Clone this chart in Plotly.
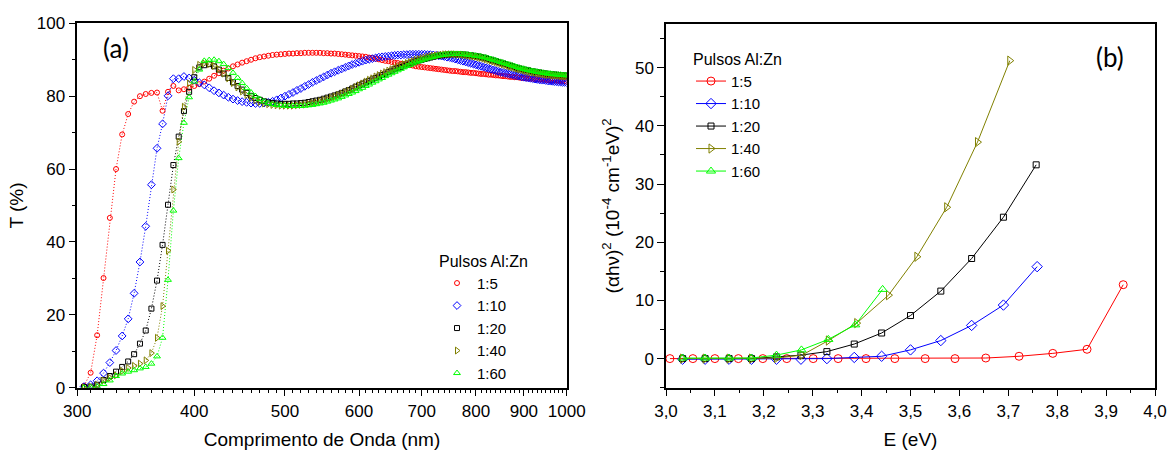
import plotly.graph_objects as go

# ---------------- Panel (a): transmittance spectra ----------------
wavelength_nm = list(range(305, 1001, 5))

T_1_5 = [0.5, 4.1, 14.4, 30.1, 46.6, 60.0, 69.5, 75.1, 78.5, 80.0, 80.6, 80.9, 81.0, 76.0, 81.2, 82.8, 81.6, 81.9, 82.3, 82.8,
         83.3, 84.0, 84.8, 85.6, 86.3, 87.0, 87.6, 88.2, 88.7, 89.2, 89.6, 90.0, 90.4, 90.7, 90.9, 91.1, 91.3, 91.4, 91.5, 91.6,
         91.7, 91.7, 91.8, 91.8, 91.9, 91.9, 91.9, 91.9, 91.9, 91.8, 91.8, 91.7, 91.7, 91.6, 91.5, 91.4, 91.3, 91.2, 91.1, 91.0,
         90.9, 90.8, 90.6, 90.5, 90.3, 90.1, 89.9, 89.7, 89.6, 89.4, 89.2, 89.1, 88.9, 88.8, 88.6, 88.5, 88.4, 88.2, 88.1, 88.0,
         87.9, 87.8, 87.7, 87.6, 87.5, 87.4, 87.3, 87.2, 87.1, 87.0, 86.9, 86.9, 86.8, 86.7, 86.6, 86.6, 86.5, 86.4, 86.4, 86.3,
         86.2, 86.1, 86.1, 86.0, 85.9, 85.9, 85.8, 85.7, 85.7, 85.6, 85.5, 85.5, 85.4, 85.3, 85.3, 85.2, 85.2, 85.1, 85.0, 85.0,
         84.9, 84.9, 84.8, 84.8, 84.7, 84.7, 84.6, 84.6, 84.5, 84.5, 84.4, 84.4, 84.3, 84.3, 84.3, 84.2, 84.2, 84.1, 84.1, 84.0]

T_1_10 = [0.3, 0.8, 1.9, 4.0, 6.9, 10.2, 14.2, 18.9, 25.9, 34.5, 44.3, 55.7, 65.7, 72.4, 80.1, 84.8, 84.8, 85.4, 85.0, 84.4,
          83.7, 83.1, 82.3, 81.5, 80.9, 80.3, 79.7, 79.2, 78.8, 78.5, 78.3, 78.1, 78.0, 78.0, 78.1, 78.3, 78.6, 79.0, 79.5, 80.0,
          80.5, 81.0, 81.6, 82.1, 82.7, 83.2, 83.8, 84.3, 84.8, 85.3, 85.8, 86.3, 86.7, 87.1, 87.5, 87.9, 88.3, 88.7, 89.0, 89.3,
          89.6, 89.9, 90.1, 90.3, 90.5, 90.7, 90.8, 90.9, 91.0, 91.1, 91.2, 91.3, 91.3, 91.4, 91.4, 91.5, 91.5, 91.5, 91.5, 91.5,
          91.5, 91.4, 91.4, 91.3, 91.2, 91.1, 91.0, 90.9, 90.7, 90.6, 90.4, 90.2, 90.0, 89.8, 89.6, 89.4, 89.2, 89.0, 88.8, 88.6,
          88.4, 88.2, 88.0, 87.8, 87.6, 87.4, 87.2, 87.0, 86.8, 86.6, 86.5, 86.3, 86.2, 86.0, 85.9, 85.7, 85.6, 85.5, 85.3, 85.2,
          85.1, 85.0, 84.9, 84.8, 84.7, 84.6, 84.5, 84.4, 84.4, 84.3, 84.2, 84.2, 84.1, 84.0, 84.0, 83.9, 83.9, 83.8, 83.8, 83.7]

T_1_20 = [0.2, 0.3, 0.8, 2.1, 3.2, 4.4, 5.7, 7.2, 9.2, 12.1, 15.7, 21.7, 29.4, 39.2, 50.2, 61.1, 68.9, 75.9, 81.2, 85.2,
          87.9, 88.5, 88.8, 88.2, 87.3, 86.2, 85.0, 83.8, 82.8, 81.8, 80.9, 80.1, 79.5, 79.0, 78.6, 78.3, 78.1, 78.0, 77.9, 77.9,
          77.9, 78.0, 78.0, 78.1, 78.2, 78.4, 78.6, 78.8, 79.0, 79.3, 79.6, 79.9, 80.2, 80.5, 80.9, 81.3, 81.7, 82.1, 82.6, 83.0,
          83.4, 83.8, 84.2, 84.6, 85.0, 85.4, 85.8, 86.2, 86.6, 87.0, 87.4, 87.7, 88.0, 88.4, 88.7, 89.0, 89.3, 89.6, 89.8, 90.0,
          90.2, 90.4, 90.6, 90.8, 91.0, 91.1, 91.2, 91.3, 91.4, 91.5, 91.5, 91.5, 91.5, 91.5, 91.4, 91.4, 91.3, 91.2, 91.1, 91.0,
          90.9, 90.7, 90.6, 90.4, 90.2, 90.0, 89.8, 89.6, 89.4, 89.2, 89.0, 88.8, 88.6, 88.4, 88.2, 88.0, 87.8, 87.6, 87.5, 87.3,
          87.2, 87.1, 86.9, 86.8, 86.7, 86.6, 86.5, 86.4, 86.3, 86.2, 86.1, 86.0, 86.0, 85.9, 85.9, 85.8, 85.8, 85.7, 85.7, 85.6]

T_1_40 = [0.1, 0.2, 0.8, 2.0, 2.7, 3.4, 4.6, 5.4, 6.0, 6.6, 7.5, 9.5, 13.7, 22.4, 37.6, 54.4, 67.5, 77.1, 83.5, 87.2,
          88.6, 89.0, 88.8, 88.3, 87.4, 86.2, 84.9, 83.6, 82.4, 81.3, 80.3, 79.5, 78.9, 78.4, 78.0, 77.8, 77.6, 77.5, 77.4, 77.4,
          77.4, 77.4, 77.5, 77.6, 77.7, 77.9, 78.1, 78.3, 78.6, 78.9, 79.2, 79.5, 79.9, 80.3, 80.7, 81.1, 81.5, 82.0, 82.5, 83.0,
          83.5, 84.0, 84.5, 84.9, 85.4, 85.8, 86.2, 86.6, 87.0, 87.4, 87.8, 88.1, 88.5, 88.8, 89.1, 89.4, 89.7, 90.0, 90.2, 90.4,
          90.6, 90.8, 91.0, 91.1, 91.2, 91.3, 91.4, 91.5, 91.5, 91.5, 91.5, 91.5, 91.4, 91.4, 91.3, 91.2, 91.1, 91.0, 90.9, 90.8,
          90.6, 90.5, 90.3, 90.1, 89.9, 89.7, 89.5, 89.3, 89.1, 88.9, 88.7, 88.5, 88.3, 88.1, 87.9, 87.7, 87.5, 87.3, 87.2, 87.0,
          86.9, 86.7, 86.6, 86.5, 86.4, 86.3, 86.2, 86.1, 86.0, 85.9, 85.8, 85.8, 85.7, 85.7, 85.6, 85.6, 85.5, 85.5, 85.4, 85.4]

T_1_60 = [0.0, 0.1, 0.3, 1.0, 2.0, 3.2, 3.9, 4.4, 4.8, 5.3, 5.7, 6.6, 8.6, 13.7, 29.6, 48.6, 63.0, 72.7, 79.7, 84.0,
          87.3, 89.7, 89.9, 90.0, 89.6, 88.8, 87.7, 86.4, 85.0, 83.6, 82.2, 81.0, 80.0, 79.2, 78.6, 78.1, 77.8, 77.6, 77.5, 77.4,
          77.3, 77.3, 77.3, 77.3, 77.4, 77.5, 77.6, 77.8, 78.0, 78.2, 78.5, 78.8, 79.1, 79.4, 79.8, 80.2, 80.6, 81.0, 81.4, 81.9,
          82.3, 82.8, 83.2, 83.7, 84.1, 84.6, 85.0, 85.5, 85.9, 86.3, 86.7, 87.1, 87.5, 87.9, 88.3, 88.6, 89.0, 89.3, 89.6, 89.9,
          90.1, 90.4, 90.6, 90.8, 91.0, 91.2, 91.3, 91.4, 91.5, 91.6, 91.6, 91.6, 91.6, 91.6, 91.5, 91.5, 91.4, 91.3, 91.2, 91.1,
          91.0, 90.9, 90.7, 90.6, 90.4, 90.2, 90.0, 89.8, 89.6, 89.4, 89.2, 89.0, 88.8, 88.6, 88.4, 88.2, 88.0, 87.8, 87.6, 87.5,
          87.3, 87.2, 87.0, 86.9, 86.8, 86.7, 86.6, 86.5, 86.4, 86.3, 86.2, 86.2, 86.1, 86.0, 86.0, 85.9, 85.9, 85.8, 85.8, 85.7]

# ---------------- Panel (b): Tauc plot ----------------
E_1_5 = [3.008, 3.055, 3.100, 3.148, 3.198, 3.247, 3.301, 3.352, 3.409, 3.468, 3.530, 3.591, 3.654, 3.722, 3.791, 3.861, 3.935]
A_1_5 = [0.0, 0.0, 0.0, 0.0, 0.0, 0.0, 0.0, 0.0, 0.0, 0.0, 0.0, 0.0, 0.1, 0.4, 0.9, 1.6, 12.7]

E_1_10 = [3.034, 3.080, 3.129, 3.175, 3.226, 3.276, 3.329, 3.385, 3.441, 3.500, 3.562, 3.625, 3.690, 3.759]
A_1_10 = [-0.1, -0.1, -0.1, -0.1, -0.1, -0.1, 0.0, 0.2, 0.4, 1.5, 3.1, 5.7, 9.2, 15.8]

E_1_20 = [3.034, 3.080, 3.129, 3.175, 3.226, 3.276, 3.329, 3.385, 3.441, 3.500, 3.562, 3.625, 3.690, 3.757]
A_1_20 = [0.0, 0.0, 0.0, 0.0, 0.3, 0.6, 1.2, 2.5, 4.4, 7.4, 11.6, 17.2, 24.3, 33.3]

E_1_40 = [3.034, 3.080, 3.129, 3.175, 3.226, 3.278, 3.332, 3.390, 3.455, 3.513, 3.574, 3.637, 3.703]
A_1_40 = [0.0, 0.0, 0.0, 0.0, 0.1, 0.6, 3.1, 6.1, 10.9, 17.5, 26.0, 37.2, 51.2]

E_1_60 = [3.034, 3.080, 3.129, 3.175, 3.226, 3.277, 3.332, 3.387, 3.443]
A_1_60 = [0.1, 0.1, 0.1, 0.1, 0.6, 1.5, 3.3, 5.8, 11.9]

labels = ["1:5", "1:10", "1:20", "1:40", "1:60"]
colors = ["#ff0000", "#0000ff", "#000000", "#808000", "#00ff00"]
symbols = ["circle-open", "diamond-open", "square-open", "triangle-right-open", "triangle-up-open"]
size_a = [5, 6, 5, 6, 6]
size_b = [8, 8, 6, 8, 8]

x_ticks_a = [300, 400, 500, 600, 700, 800, 900, 1000]

W, H = 1168, 451
FONT = "Liberation Sans, Arial, sans-serif"

fig = go.Figure()

series_a = [T_1_5, T_1_10, T_1_20, T_1_40, T_1_60]
for i, T in enumerate(series_a):
    fig.add_trace(go.Scatter(
        x=wavelength_nm, y=T, mode="lines", xaxis="x", yaxis="y",
        line=dict(color=colors[i], width=1, dash="1px,2px"), showlegend=False, hoverinfo="skip"))
for i, T in enumerate(series_a):
    fig.add_trace(go.Scatter(
        x=wavelength_nm, y=T, mode="markers", name=labels[i], xaxis="x", yaxis="y",
        marker=dict(symbol=symbols[i], size=size_a[i], color=colors[i], line=dict(width=1, color=colors[i])),
        legend="legend"))

series_b = [(E_1_5, A_1_5), (E_1_10, A_1_10), (E_1_20, A_1_20), (E_1_40, A_1_40), (E_1_60, A_1_60)]
for i, (E, A) in enumerate(series_b):
    fig.add_trace(go.Scatter(
        x=E, y=A, mode="lines+markers", name=labels[i], xaxis="x2", yaxis="y2",
        line=dict(color=colors[i], width=1),
        marker=dict(symbol=symbols[i], size=size_b[i], color=colors[i], line=dict(width=1, color=colors[i])),
        legend="legend2"))


def px_x(p):
    return p / W


def px_y(p):
    return (H - p) / H


axis_common = dict(showgrid=False, zeroline=False, showline=True, linecolor="black", linewidth=1.5,
                   mirror=True, ticks="outside", ticklen=7, tickwidth=1.3, tickcolor="black",
                   automargin=False,
                   tickfont=dict(family=FONT, size=17, color="black"))

minor_a_x = [v for v in range(310, 1000, 10) if v % 100 != 0]

fig.update_layout(
    width=W, height=H,
    margin=dict(l=0, r=0, t=0, b=0, autoexpand=False),
    paper_bgcolor="white", plot_bgcolor="white",
    separators=",.",
    font=dict(family=FONT, color="black"),
    xaxis=dict(**axis_common, type="log", domain=[px_x(77.3), px_x(566.7)],
               range=[2.4771213, 3.0], tickmode="array", tickvals=x_ticks_a,
               ticktext=[str(v) for v in x_ticks_a],
               minor=dict(tickmode="array", tickvals=minor_a_x, ticklen=4, ticks="outside",
                          tickcolor="black", tickwidth=1),
               title=dict(text="Comprimento de Onda (nm)", font=dict(family=FONT, size=19), standoff=13),
               anchor="y"),
    yaxis=dict(**axis_common, domain=[px_y(387.7), px_y(23.3)], range=[0, 100], dtick=20,
               minor=dict(dtick=10, ticklen=4, ticks="outside", tickcolor="black", tickwidth=1),
               title=dict(text="T (%)", font=dict(family=FONT, size=19), standoff=8),
               anchor="x"),
    xaxis2=dict(**axis_common, domain=[px_x(666), px_x(1155)], range=[3.0, 4.0], dtick=0.1,
                tickformat=".1f",
                minor=dict(dtick=0.05, ticklen=4, ticks="outside", tickcolor="black", tickwidth=1),
                title=dict(text="E (eV)", font=dict(family=FONT, size=19), standoff=13),
                anchor="y2"),
    yaxis2=dict(**axis_common, domain=[px_y(387.7), px_y(24)], range=[-5, 57.5], tick0=0, dtick=10,
                minor=dict(tick0=-5, dtick=5, ticklen=4, ticks="outside", tickcolor="black", tickwidth=1),
                title=dict(text="(αhν)<sup>2</sup> (10<sup>-4</sup> cm<sup>-1</sup>eV)<sup>2</sup>",
                           font=dict(family=FONT, size=19), standoff=10),
                anchor="x2"),
    legend=dict(x=px_x(437), y=px_y(246), xanchor="left", yanchor="top",
                bgcolor="rgba(0,0,0,0)", borderwidth=0,
                title=dict(text="Pulsos Al:Zn", font=dict(family=FONT, size=16)),
                font=dict(family=FONT, size=15), tracegroupgap=0, itemwidth=30),
    legend2=dict(x=px_x(691), y=px_y(44), xanchor="left", yanchor="top",
                 bgcolor="rgba(0,0,0,0)", borderwidth=0,
                 title=dict(text="Pulsos Al:Zn", font=dict(family=FONT, size=16)),
                 font=dict(family=FONT, size=15), tracegroupgap=0, itemwidth=30),
    annotations=[
        dict(text="(a)", x=px_x(116), y=px_y(48), xref="paper", yref="paper", showarrow=False,
             xanchor="center", yanchor="middle",
             font=dict(family="Lato, Open Sans, sans-serif", size=26, color="black")),
        dict(text="(b)", x=px_x(1110), y=px_y(57), xref="paper", yref="paper", showarrow=False,
             xanchor="center", yanchor="middle",
             font=dict(family="Lato, Open Sans, sans-serif", size=26, color="black")),
    ],
)

fig.write_html("out.html", config={"displayModeBar": False},
               post_script="document.body.style.margin='0';document.body.style.overflow='hidden';")
